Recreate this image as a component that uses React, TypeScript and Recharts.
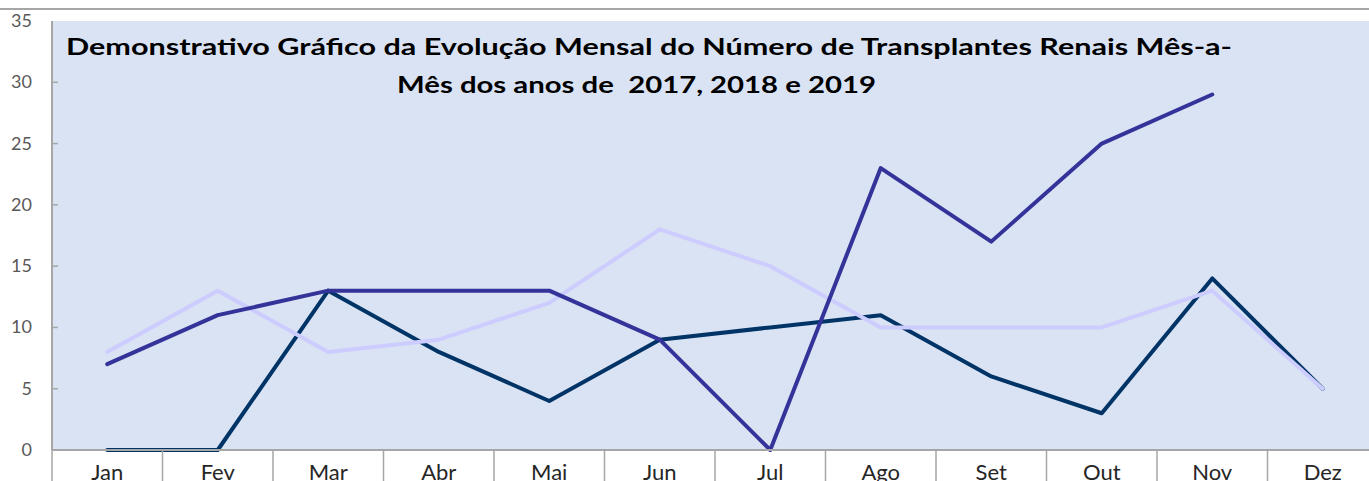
import React from "react";
import { LineChart, Line, XAxis, YAxis, CartesianGrid } from "recharts";

const months = ["Jan", "Fev", "Mar", "Abr", "Mai", "Jun", "Jul", "Ago", "Set", "Out", "Nov", "Dez"];
const serieA = [0, 0, 13, 8, 4, 9, 10, 11, 6, 3, 14, 5];
const serieB = [8, 13, 8, 9, 12, 18, 15, 10, 10, 10, 13, 5];
const serieC: (number | null)[] = [7, 11, 13, 13, 13, 9, 0, 23, 17, 25, 29, null];
const yTicks = [0, 5, 10, 15, 20, 25, 30, 35];
const titleLine1 = "Demonstrativo Gráfico da Evolução Mensal do Número de Transplantes Renais Mês-a-";
const titleLine2 = "Mês dos anos de  2017, 2018 e 2019";

const data = months.map((m, i) => ({ m, a: serieA[i], b: serieB[i], c: serieC[i] }));

const FONT = "Lato, 'Open Sans', sans-serif";
const HALF_BAND = 55.25;

const XTick = (props: any) => {
  const { x, y, payload, index } = props;
  return (
    <g>
      {index === 0 && (
        <line x1={x - HALF_BAND} x2={x - HALF_BAND} y1={y} y2={y + 40} stroke="#a6a6a6" strokeWidth={1.5} />
      )}
      <line x1={x + HALF_BAND} x2={x + HALF_BAND} y1={y} y2={y + 40} stroke="#a6a6a6" strokeWidth={1.5} />
      <text x={x} y={y + 30} textAnchor="middle" fontFamily={FONT} fontSize={22} fill="#262626">
        {payload.value}
      </text>
    </g>
  );
};

const YTick = (props: any) => {
  const { x, y, payload } = props;
  return (
    <g>
      {payload.value !== 0 && payload.value !== 35 && (
        <line x1={x} x2={x + 6} y1={y} y2={y} stroke="#a6a6a6" strokeWidth={1.5} />
      )}
      <text x={x - 20} y={y + 6} textAnchor="end" fontFamily={FONT} fontSize={18} fill="#595959">
        {payload.value}
      </text>
    </g>
  );
};

export default function App() {
  return (
    <div style={{ position: "absolute", left: 0, top: 0, width: 1369, height: 481, overflow: "hidden", background: "#fff" }}>
      <div style={{ position: "absolute", left: 0, top: 8, width: 1369, height: 2, background: "#a6a6a6" }} />
      <LineChart
        width={1378}
        height={481}
        data={data}
        margin={{ top: 21, right: 0, bottom: 0, left: 0 }}
      >
        <CartesianGrid fill="#dae3f3" horizontal={false} vertical={false} />
        <XAxis
          dataKey="m"
          scale="band"
          height={31}
          interval={0}
          tickSize={0}
          tickMargin={0}
          tickLine={false}
          axisLine={{ stroke: "#a6a6a6", strokeWidth: 2 }}
          tick={XTick}
        />
        <XAxis
          xAxisId="top"
          dataKey="m"
          orientation="top"
          height={0}
          tick={false}
          tickLine={false}
          axisLine={{ stroke: "#a6a6a6", strokeWidth: 2 }}
        />
        <YAxis
          width={52}
          domain={[0, 35]}
          ticks={yTicks}
          interval={0}
          tickSize={0}
          tickMargin={0}
          tickLine={false}
          axisLine={{ stroke: "#a6a6a6", strokeWidth: 2 }}
          tick={YTick}
        />
        <Line dataKey="a" stroke="#003366" strokeWidth={4} dot={false} strokeLinecap="round" strokeLinejoin="round" isAnimationActive={false} />
        <Line dataKey="b" stroke="#ccccff" strokeWidth={4} dot={false} strokeLinecap="round" strokeLinejoin="round" isAnimationActive={false} />
        <Line dataKey="c" stroke="#333399" strokeWidth={4} dot={false} strokeLinecap="round" strokeLinejoin="round" isAnimationActive={false} />
        <text x={66} y={55} fontFamily={FONT} fontWeight="bold" fontSize={23} fill="#000" textLength={1166} lengthAdjust="spacingAndGlyphs" style={{ whiteSpace: "pre" }}>
          {titleLine1}
        </text>
        <text x={397} y={93} fontFamily={FONT} fontWeight="bold" fontSize={23} fill="#000" textLength={479} lengthAdjust="spacingAndGlyphs" style={{ whiteSpace: "pre" }}>
          {titleLine2}
        </text>
      </LineChart>
    </div>
  );
}
